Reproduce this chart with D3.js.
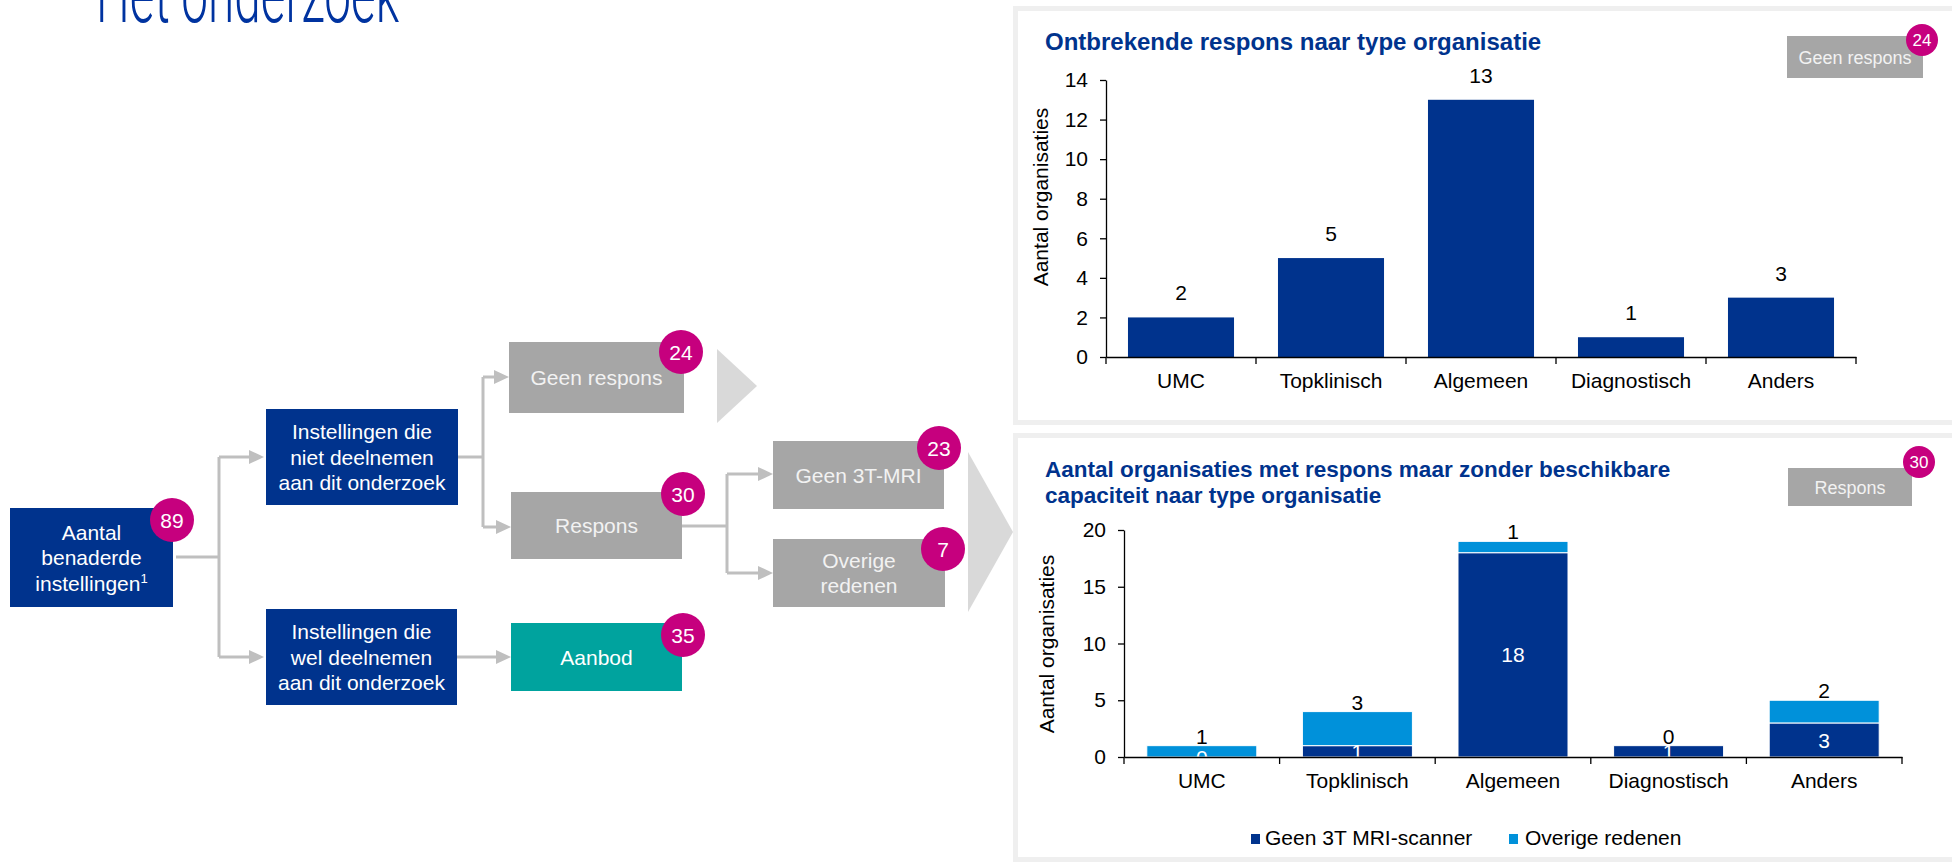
<!DOCTYPE html>
<html>
<head>
<meta charset="utf-8">
<script src="https://cdn.jsdelivr.net/npm/d3@7"></script>
<style>
  html, body { margin: 0; padding: 0; background: #ffffff; }
  svg { display: block; }
</style>
</head>
<body>
<div id="chart"></div>
<script>
// ---- Data ----
const categories = ["UMC", "Topklinisch", "Algemeen", "Diagnostisch", "Anders"];
// Organisations without response, per type
const geenResponsValues = [2, 5, 13, 1, 3];
// Organisations with response but no available capacity, per type and reason
const geen3TValues = [0, 1, 18, 1, 3];
const overigeValues = [1, 3, 1, 0, 2];
const seriesNames = ["Geen 3T MRI-scanner", "Overige redenen"];
const yTicksTop = [0, 2, 4, 6, 8, 10, 12, 14];
const yTicksBottom = [0, 5, 10, 15, 20];

// Flow diagram counts and labels
const flowLabels = [
  ["Aantal", "benaderde", "instellingen"],
  ["Instellingen die", "niet deelnemen", "aan dit onderzoek"],
  ["Instellingen die", "wel deelnemen", "aan dit onderzoek"],
  ["Geen respons"],
  ["Respons"],
  ["Aanbod"],
  ["Geen 3T-MRI"],
  ["Overige", "redenen"]
];
const flowCounts = [89, null, null, 24, 30, 35, 23, 7];

// ---- Styling ----
const NAVY = "#00338d";
const LIGHTBLUE = "#0091da";
const MAGENTA = "#c6007e";
const TEAL = "#00a39e";
const GRAYBOX = "#a6a6a6";
const CONNECTOR = "#bfbfbf";
const FONT = "'Liberation Sans', Arial, sans-serif";

const W = 1952, H = 862;
const svg = d3.select("#chart").append("svg")
  .attr("width", W).attr("height", H)
  .attr("font-family", FONT);

// ---- Page heading (partly above the visible area) ----
svg.append("text")
  .attr("x", 96).attr("y", 22)
  .attr("font-family", "Roboto, 'Open Sans', sans-serif")
  .attr("font-weight", 300)
  .attr("font-size", 80)
  .attr("fill", "#0033a0")
  .attr("textLength", 303)
  .attr("lengthAdjust", "spacingAndGlyphs")
  .text("Het onderzoek");

// ---- Flow diagram ----
const flowLayout = [
  { x: 10,  y: 508, w: 163, h: 99, fill: NAVY,    badge: [172, 520] },
  { x: 266, y: 409, w: 192, h: 96, fill: NAVY },
  { x: 266, y: 609, w: 191, h: 96, fill: NAVY },
  { x: 509, y: 342, w: 175, h: 71, fill: GRAYBOX, badge: [681, 352] },
  { x: 511, y: 492, w: 171, h: 67, fill: GRAYBOX, badge: [683, 494] },
  { x: 511, y: 623, w: 171, h: 68, fill: TEAL,    badge: [683, 635] },
  { x: 773, y: 441, w: 171, h: 68, fill: GRAYBOX, badge: [939, 448] },
  { x: 773, y: 539, w: 172, h: 68, fill: GRAYBOX, badge: [943, 549] }
];

const flow = svg.append("g").attr("class", "flow");

// connectors
const connectorPaths = [
  "M176,557H219", "M219,457V657", "M219,457H252", "M219,657H252",
  "M458,457H483", "M483,377V527", "M483,377H497", "M483,527H499",
  "M457,657H499",
  "M682,526H727", "M727,474V573", "M727,474H761", "M727,573H761"
];
flow.selectAll("path.conn").data(connectorPaths).join("path")
  .attr("class", "conn")
  .attr("d", d => d)
  .attr("fill", "none")
  .attr("stroke", CONNECTOR)
  .attr("stroke-width", 3);

const arrowTips = [[264, 457], [264, 657], [509, 377], [511, 527], [511, 657], [773, 474], [773, 573]];
flow.selectAll("path.arrow").data(arrowTips).join("path")
  .attr("class", "arrow")
  .attr("d", ([x, y]) => `M${x},${y}L${x - 15},${y - 7}L${x - 15},${y + 7}Z`)
  .attr("fill", CONNECTOR);

// chevrons pointing towards the charts
const chevrons = [
  [[717, 349], [757, 386], [717, 423]],
  [[968, 452], [1013, 532], [968, 612]]
];
flow.selectAll("path.chev").data(chevrons).join("path")
  .attr("class", "chev")
  .attr("d", d => "M" + d.join("L") + "Z")
  .attr("fill", "#d9d9d9");

// boxes
const nodes = flowLayout.map((l, i) => ({ ...l, lines: flowLabels[i], count: flowCounts[i] }));
const nodeG = flow.selectAll("g.node").data(nodes).join("g").attr("class", "node");
nodeG.append("rect")
  .attr("x", d => d.x).attr("y", d => d.y)
  .attr("width", d => d.w).attr("height", d => d.h)
  .attr("fill", d => d.fill);

const LINE = 25.5;
nodeG.each(function (d, i) {
  const g = d3.select(this);
  const cy = d.y + d.h / 2;
  const n = d.lines.length;
  const textColor = d.fill === GRAYBOX ? "#f2f2f2" : "#ffffff";
  d.lines.forEach((line, k) => {
    const t = g.append("text")
      .attr("x", d.x + d.w / 2)
      .attr("y", cy + (k - (n - 1) / 2) * LINE + 7.5)
      .attr("text-anchor", "middle")
      .attr("font-size", 21)
      .attr("fill", textColor)
      .text(line);
    if (i === 0 && k === n - 1) {
      t.append("tspan").attr("font-size", 13).attr("dy", -8).text("1");
    }
  });
});

// count badges
const badged = nodes.filter(d => d.count !== null);
const badgeG = flow.selectAll("g.badge").data(badged).join("g").attr("class", "badge");
badgeG.append("circle")
  .attr("cx", d => d.badge[0]).attr("cy", d => d.badge[1]).attr("r", 22)
  .attr("fill", MAGENTA);
badgeG.append("text")
  .attr("x", d => d.badge[0]).attr("y", d => d.badge[1] + 7.5)
  .attr("text-anchor", "middle")
  .attr("font-size", 21)
  .attr("fill", "#ffffff")
  .text(d => d.count);

// ---- Chart panels ----
const panels = [
  { x: 1015.5, y: 8.5, w: 940, h: 414 },
  { x: 1015.5, y: 435.5, w: 940, h: 424 }
];
svg.selectAll("rect.panel").data(panels).join("rect")
  .attr("class", "panel")
  .attr("x", d => d.x).attr("y", d => d.y)
  .attr("width", d => d.w).attr("height", d => d.h)
  .attr("fill", "#ffffff")
  .attr("stroke", "#efefef")
  .attr("stroke-width", 5);

function panelBadge(box, circle, label, count) {
  const g = svg.append("g");
  g.append("rect")
    .attr("x", box[0]).attr("y", box[1]).attr("width", box[2]).attr("height", box[3])
    .attr("fill", GRAYBOX);
  g.append("text")
    .attr("x", box[0] + box[2] / 2).attr("y", box[1] + box[3] / 2 + 6.5)
    .attr("text-anchor", "middle").attr("font-size", 18).attr("fill", "#f2f2f2")
    .text(label);
  g.append("circle").attr("cx", circle[0]).attr("cy", circle[1]).attr("r", 16).attr("fill", MAGENTA);
  g.append("text")
    .attr("x", circle[0]).attr("y", circle[1] + 6)
    .attr("text-anchor", "middle").attr("font-size", 17).attr("fill", "#ffffff")
    .text(count);
}

function styleAxis(g) {
  g.selectAll("path.domain").attr("stroke", "#000").attr("stroke-width", 1.3);
  g.selectAll(".tick line").attr("stroke", "#000").attr("stroke-width", 1.3);
  g.selectAll(".tick text").attr("font-size", 21).attr("fill", "#000").attr("font-family", FONT);
}

function drawAxes(x, y, yTicks, yTitle, yTitlePos) {
  const [x0, x1] = x.range();
  const y0 = y.range()[0];
  // y axis
  const ya = svg.append("g").attr("transform", `translate(${x0},0)`)
    .call(d3.axisLeft(y).tickValues(yTicks).tickSize(6).tickSizeOuter(0).tickPadding(12));
  styleAxis(ya);
  // x axis with category labels
  const xa = svg.append("g").attr("transform", `translate(0,${y0})`)
    .call(d3.axisBottom(x).tickSize(0).tickPadding(16));
  styleAxis(xa);
  // boundary ticks between categories
  const bounds = categories.map(c => x(c) - x.step() * x.paddingInner() / 2);
  bounds[0] = x0;
  bounds.push(x1);
  svg.append("g").selectAll("line").data(bounds).join("line")
    .attr("x1", d => d).attr("x2", d => d)
    .attr("y1", y0).attr("y2", y0 + 7)
    .attr("stroke", "#000").attr("stroke-width", 1.3);
  // y title
  svg.append("text")
    .attr("transform", `translate(${yTitlePos[0]},${yTitlePos[1]}) rotate(-90)`)
    .attr("text-anchor", "middle")
    .attr("dy", "0.35em")
    .attr("font-size", 21)
    .attr("fill", "#000")
    .text(yTitle);
}

// ---- Chart 1: missing response per organisation type ----
svg.append("text")
  .attr("x", 1045).attr("y", 50)
  .attr("font-size", 24).attr("font-weight", "bold").attr("fill", NAVY)
  .text("Ontbrekende respons naar type organisatie");
panelBadge([1787, 36, 136, 42], [1922, 40], "Geen respons", 24);

const x1 = d3.scaleBand().domain(categories).range([1106, 1856])
  .paddingInner(0.293).paddingOuter(0.1465);
const y1 = d3.scaleLinear().domain([0, 14]).range([357, 80]);

svg.append("g").selectAll("rect").data(categories).join("rect")
  .attr("x", c => x1(c))
  .attr("y", (c, i) => y1(geenResponsValues[i]))
  .attr("width", x1.bandwidth())
  .attr("height", (c, i) => y1(0) - y1(geenResponsValues[i]))
  .attr("fill", NAVY);

svg.append("g").selectAll("text").data(categories).join("text")
  .attr("x", c => x1(c) + x1.bandwidth() / 2)
  .attr("y", (c, i) => y1(geenResponsValues[i]) - 17)
  .attr("text-anchor", "middle")
  .attr("font-size", 21).attr("fill", "#000")
  .text((c, i) => geenResponsValues[i]);

drawAxes(x1, y1, yTicksTop, "Aantal organisaties", [1041, 197]);

// ---- Chart 2: response without available capacity, stacked ----
const title2 = svg.append("text")
  .attr("font-size", 22.5).attr("font-weight", "bold").attr("fill", NAVY);
title2.append("tspan").attr("x", 1045).attr("y", 477)
  .text("Aantal organisaties met respons maar zonder beschikbare");
title2.append("tspan").attr("x", 1045).attr("y", 503)
  .text("capaciteit naar type organisatie");
panelBadge([1788, 468, 124, 38], [1919, 462], "Respons", 30);

const x2 = d3.scaleBand().domain(categories).range([1124, 1902])
  .paddingInner(0.293).paddingOuter(0.1465);
const y2 = d3.scaleLinear().domain([0, 20]).range([757, 530]);

const rows = categories.map((c, i) => ({ cat: c, geen: geen3TValues[i], overige: overigeValues[i] }));
const stacked = d3.stack().keys(["geen", "overige"])(rows);
const colors = [NAVY, LIGHTBLUE];

const layers = svg.append("g").selectAll("g").data(stacked).join("g")
  .attr("fill", (d, i) => colors[i]);
layers.selectAll("rect").data(d => d).join("rect")
  .attr("x", d => x2(d.data.cat))
  .attr("y", d => y2(d[1]))
  .attr("width", x2.bandwidth())
  .attr("height", d => y2(d[0]) - y2(d[1]))
  .attr("stroke", "#ffffff")
  .attr("stroke-width", d => (d[1] - d[0]) > 0 ? 1 : 0);

// labels: first series centred inside its segment, second series on top of the stack
svg.append("g").selectAll("text").data(stacked[0]).join("text")
  .attr("x", d => x2(d.data.cat) + x2.bandwidth() / 2)
  .attr("y", d => (y2(d[0]) + y2(d[1])) / 2)
  .attr("dy", "0.36em")
  .attr("text-anchor", "middle")
  .attr("font-size", 21).attr("fill", "#ffffff")
  .text(d => d.data.geen);
svg.append("g").selectAll("text").data(stacked[1]).join("text")
  .attr("x", d => x2(d.data.cat) + x2.bandwidth() / 2)
  .attr("y", d => y2(d[1]) - 2)
  .attr("text-anchor", "middle")
  .attr("font-size", 21).attr("fill", "#000")
  .text(d => d.data.overige);

drawAxes(x2, y2, yTicksBottom, "Aantal organisaties", [1047, 644]);

// legend
const legendPos = [[1251, 1265], [1509, 1525]];
const legend = svg.append("g").selectAll("g").data(seriesNames).join("g");
legend.append("rect")
  .attr("x", (d, i) => legendPos[i][0]).attr("y", 834)
  .attr("width", 9).attr("height", 10)
  .attr("fill", (d, i) => colors[i]);
legend.append("text")
  .attr("x", (d, i) => legendPos[i][1]).attr("y", 845)
  .attr("font-size", 21).attr("fill", "#000")
  .text(d => d);
</script>
</body>
</html>
